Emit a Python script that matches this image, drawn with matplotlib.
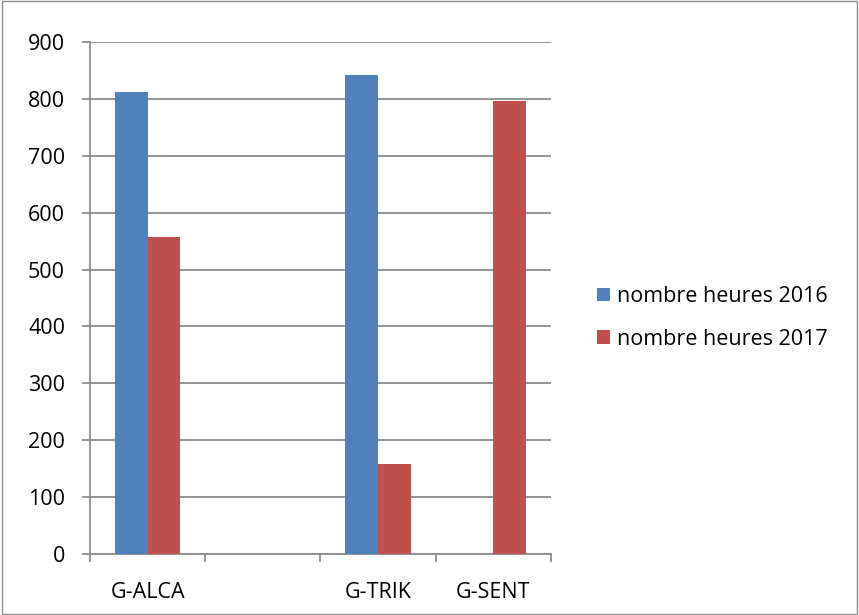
import numpy as np
import matplotlib.pyplot as plt
from matplotlib.patches import Rectangle

# categories (the second one is empty in the source chart)
categories = ["G-ALCA", "", "G-TRIK", "G-SENT"]
heures_2016 = [812, 0, 842, 0]
heures_2017 = [558, 0, 158, 796]
labels = ["nombre heures 2016", "nombre heures 2017"]

plt.rcParams['font.family'] = ['Open Sans', 'DejaVu Sans']

fig = plt.figure(figsize=(8.59, 6.15), dpi=100)
ax = fig.add_axes([0.1048, 0.0992, 0.5366, 0.8325])

x = np.arange(len(categories))
w = 0.285
ax.bar(x - w / 2, heures_2016, w, color='#4F81BD', label=labels[0], zorder=3)
ax.bar(x + w / 2, heures_2017, w, color='#C0504D', label=labels[1], zorder=3)

ax.set_xlim(-0.5, len(categories) - 0.5)
ax.set_ylim(0, 900)
ax.set_yticks(range(0, 901, 100))
ax.yaxis.grid(True, color='#8c8c8c', lw=1.3, zorder=0)

ax.set_xticks(x)
ax.set_xticklabels(categories, fontsize=15.5)
ax.tick_params(axis='x', which='major', length=0, pad=20)
ax.set_xticks(np.arange(-0.5, len(categories), 1), minor=True)
ax.tick_params(axis='x', which='minor', length=6, color='#8c8c8c', width=1.3)
ax.tick_params(axis='y', length=6, color='#8c8c8c', width=1.3, labelsize=15.5, pad=12)

for s in ['top', 'right']:
    ax.spines[s].set_visible(False)
for s in ['left', 'bottom']:
    ax.spines[s].set_color('#8c8c8c')
    ax.spines[s].set_linewidth(1.3)

ax.legend(loc='center left', bbox_to_anchor=(0.672, 0.483), bbox_transform=fig.transFigure,
          frameon=False, fontsize=15.5, handlelength=0.6, handleheight=0.6,
          handletextpad=0.35, labelspacing=1.0)

# outer chart border
fig.patches.append(Rectangle((0.002, 0.002), 0.996, 0.996, transform=fig.transFigure,
                             fill=False, edgecolor='#8c8c8c', lw=1))

fig.savefig("out.png", dpi=100)
